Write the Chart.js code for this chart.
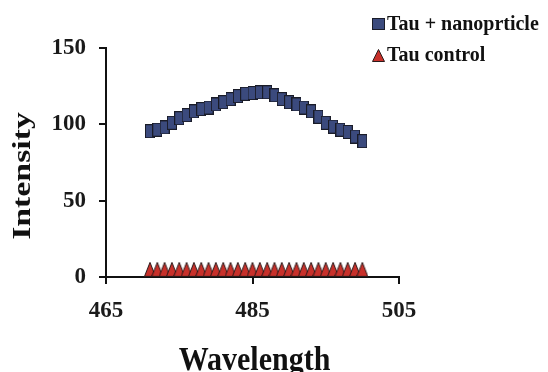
<!DOCTYPE html>
<html>
<head>
<meta charset="utf-8">
<script src="https://cdn.jsdelivr.net/npm/chart.js@4/dist/chart.umd.min.js"></script>
<style>
  body { margin: 0; background: #fff; }
  #wrap { width: 548px; height: 372px; }
</style>
</head>
<body>
<div id="wrap"><canvas id="myChart"></canvas></div>
<script>
// data
let wavelengths = [471, 472, 473, 474, 475, 476, 477, 478, 479, 480, 481, 482, 483, 484, 485,
  486, 487, 488, 489, 490, 491, 492, 493, 494, 495, 496, 497, 498, 499, 500];
let nanoValues = [95.5, 96.5, 98, 101, 104, 106, 108.5, 110, 111, 113, 114.5, 116.5, 118.5, 120, 120.5,
  121, 121, 119, 116.5, 114.5, 113, 111, 108.5, 105, 101, 98.5, 96.5, 95, 92, 89];
let controlValues = [5, 5, 5, 5, 5, 5, 5, 5, 5, 5, 5, 5, 5, 5, 5,
  5, 5, 5, 5, 5, 5, 5, 5, 5, 5, 5, 5, 5, 5, 5];
let seriesNames = ["Tau + nanoprticle", "Tau control"];
let xTitle = "Wavelength";
let yTitle = "Intensity";
let xTicks = [465, 485, 505];
let yTicks = [0, 50, 100, 150];

let serif = "'Liberation Serif', 'Times New Roman', serif";
let blue = "#3b4a7d";
let red = "#c8302a";

function makeRect(w, h, fill, stroke) {
  let c = document.createElement("canvas");
  c.width = w; c.height = h;
  let g = c.getContext("2d");
  g.fillStyle = stroke;
  g.fillRect(0, 0, w, h);
  g.fillStyle = fill;
  g.fillRect(1, 1, w - 2, h - 2);
  return c;
}
function makeTri(w, h, fill, stroke) {
  let c = document.createElement("canvas");
  c.width = w; c.height = h;
  let g = c.getContext("2d");
  g.beginPath();
  g.moveTo(w / 2, 0.5);
  g.lineTo(w - 0.5, h - 0.5);
  g.lineTo(0.5, h - 0.5);
  g.closePath();
  g.fillStyle = fill;
  g.fill();
  g.strokeStyle = stroke;
  g.lineWidth = 1;
  g.stroke();
  return c;
}

let sqImg = makeRect(10, 14, blue, "#1a1c28");
let triImg = makeTri(12, 15, red, "#2a1a1a");

// axis titles (the figure's lettering is a bit stretched) and the stacked legend
let textPlugin = {
  id: "figureText",
  afterDraw(chart) {
    let ctx = chart.ctx;
    let area = chart.chartArea;
    ctx.save();
    ctx.fillStyle = "#111";

    // y title
    ctx.save();
    ctx.translate(36, 176);
    ctx.rotate(-Math.PI / 2);
    ctx.scale(1.3, 1);
    ctx.font = "bold 26px " + serif;
    ctx.textAlign = "center";
    ctx.textBaseline = "alphabetic";
    ctx.fillText(yTitle, 0, -6);
    ctx.restore();

    // x title
    ctx.save();
    ctx.translate((area.left + area.right) / 2 + 2, 370);
    ctx.scale(1, 1.12);
    ctx.font = "bold 30px " + serif;
    ctx.textAlign = "center";
    ctx.textBaseline = "alphabetic";
    ctx.fillText(xTitle, 0, 0);
    ctx.restore();

    // legend
    ctx.font = "bold 20px " + serif;
    ctx.textAlign = "left";
    ctx.textBaseline = "alphabetic";
    let rows = [
      { base: 30, name: seriesNames[0], img: makeRect(13, 12, blue, "#1a1c28"), top: 18 },
      { base: 61, name: seriesNames[1], img: makeTri(13, 13, red, "#2a1a1a"), top: 49 }
    ];
    rows.forEach(function (r) {
      ctx.drawImage(r.img, 372, r.top);
      ctx.fillText(r.name, 387, r.base);
    });
    ctx.restore();
  }
};

new Chart("myChart", {
  type: "scatter",
  data: {
    datasets: [
      {
        label: seriesNames[0],
        data: wavelengths.map((w, i) => ({ x: w, y: nanoValues[i] })),
        pointStyle: sqImg,
        pointRadius: 7
      },
      {
        label: seriesNames[1],
        data: wavelengths.map((w, i) => ({ x: w, y: controlValues[i] })),
        pointStyle: triImg,
        pointRadius: 7
      }
    ]
  },
  options: {
    responsive: true,
    maintainAspectRatio: false,
    animation: false,
    layout: { padding: { top: 48, right: 149, bottom: 0, left: 0 } },
    plugins: { legend: { display: false }, tooltip: { enabled: false } },
    scales: {
      x: {
        type: "linear",
        min: 465,
        max: 505,
        afterBuildTicks: (axis) => { axis.ticks = xTicks.map(v => ({ value: v })); },
        afterFit: (axis) => { axis.height = 95; },
        grid: { drawOnChartArea: false, drawTicks: true, tickLength: 7, color: "#111", lineWidth: 2 },
        border: { color: "#111", width: 2 },
        ticks: { color: "#1a1a1a", font: { family: serif, size: 23, weight: "bold" }, padding: 13 }
      },
      y: {
        min: 0,
        max: 150,
        afterBuildTicks: (axis) => { axis.ticks = yTicks.map(v => ({ value: v })); },
        afterFit: (axis) => { axis.width = 106; },
        grid: { drawOnChartArea: false, drawTicks: true, tickLength: 7, color: "#111", lineWidth: 2 },
        border: { color: "#111", width: 2 },
        ticks: { color: "#1a1a1a", font: { family: serif, size: 23, weight: "bold" }, padding: 13 }
      }
    }
  },
  plugins: [textPlugin]
});
</script>
</body>
</html>
